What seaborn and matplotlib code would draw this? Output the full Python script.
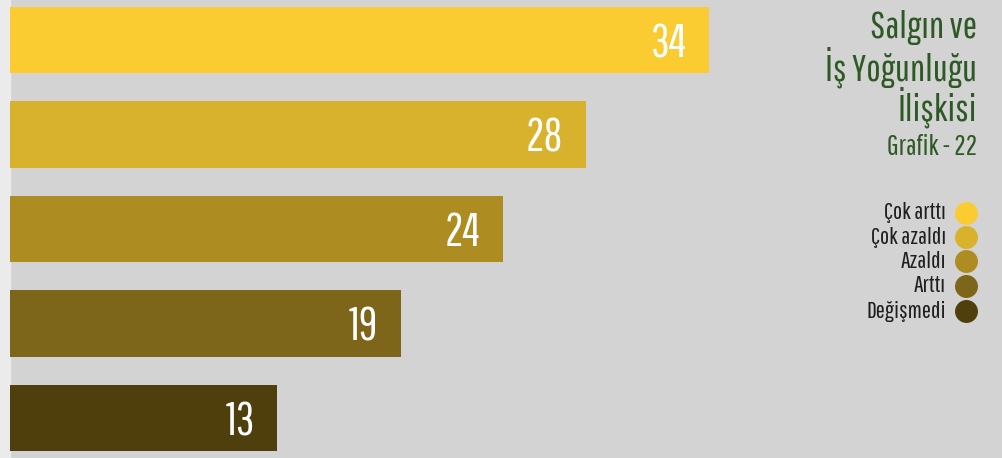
import numpy as np
import pandas as pd
import matplotlib
matplotlib.use("Agg")
import matplotlib.pyplot as plt
import seaborn as sns

# Data
categories = ["Çok arttı", "Çok azaldı", "Azaldı", "Arttı", "Değişmedi"]
values = [34, 28, 24, 19, 13]
bar_colors = ["#FBCC32", "#D9B22D", "#AD8D22", "#7D6519", "#4F3F0C"]
title_lines = ["Salgın ve", "İş Yoğunluğu", "İlişkisi"]
subtitle = "Grafik - 22"

df = pd.DataFrame({"kategori": categories, "deger": values})

sns.set_theme(style="white")
plt.rcParams["font.family"] = ["Pathway Gothic One", "Sofia Sans Extra Condensed", "DejaVu Sans"]

W, H = 1002, 458
fig = plt.figure(figsize=(W / 100, H / 100), dpi=100, facecolor="#D3D3D3")
# light strip on the left edge
fig.add_artist(plt.Rectangle((0, 0), 10 / W, 1, color="#EBEBEB",
                             transform=fig.transFigure, zorder=0))
ax = fig.add_axes([10 / W, 0, 992 / W, 1])

sns.barplot(data=df, y="kategori", x="deger", hue="kategori",
            palette=bar_colors, orient="h", width=0.70, legend=False,
            saturation=1, linewidth=0, ax=ax)

ax.set_xlim(0, 992 / 20.56)
ax.set_ylim(4 + 40 / 94.5, -40 / 94.5)
ax.set_axis_off()

# Value labels inside bars
for i, v in enumerate(values):
    ax.text(v - 1.1, i + 0.04, str(v), ha="right", va="center",
            color="white", fontsize=33)

def fy(px):
    return 1 - px / H

# Title on the right
baselines = [38, 80, 121]
for line, b in zip(title_lines, baselines):
    fig.text(977 / W, fy(b), line, ha="right", va="baseline",
             color="#2D5A24", fontsize=27.5)
fig.text(977 / W, fy(155), subtitle, ha="right", va="baseline",
         color="#2D5A24", fontsize=20.5)

# Legend
rows = [213, 237, 261, 286, 311]
for lab, col, y in zip(categories, bar_colors, rows):
    fig.text(946 / W, fy(y), lab, ha="right", va="center",
             color="#1E1E1E", fontsize=17.5)
    fig.add_artist(plt.Line2D([966 / W], [fy(y)], marker="o", markersize=15.5,
                              color=col, linestyle="none",
                              transform=fig.transFigure))

fig.savefig("out.png", dpi=100, facecolor=fig.get_facecolor())
